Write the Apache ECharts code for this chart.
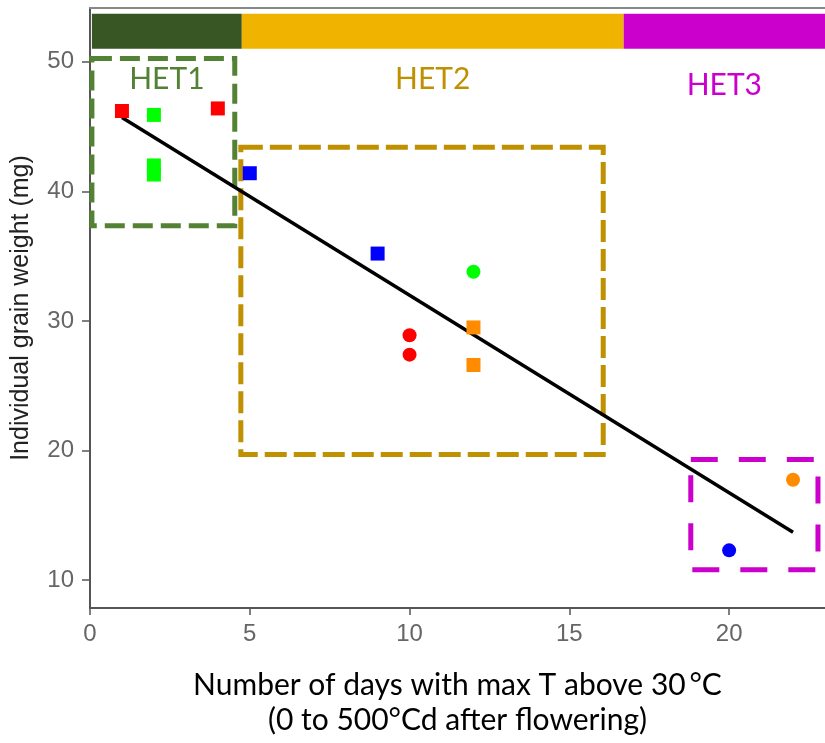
<!DOCTYPE html>
<html>
<head>
<meta charset="utf-8">
<script src="https://cdn.jsdelivr.net/npm/echarts@6/dist/echarts.min.js"></script>
<style>
html,body{margin:0;padding:0;background:#fff;}
#box{width:825px;height:743px;}
</style>
</head>
<body>
<div id="box"></div>
<script>
// 数据
var redSquares = [[1, 46.2], [4, 46.4]];
var greenSquares = [[2, 45.9], [2, 42.0], [2, 41.3]];
var blueSquares = [[5, 41.4], [9, 35.2]];
var orangeSquares = [[12, 29.5], [12, 26.6]];
var redCircles = [[10, 28.9], [10, 27.4]];
var greenCircles = [[12, 33.8]];
var blueCircles = [[20, 12.3]];
var orangeCircles = [[22, 17.75]];
var fitLine = [[1, 45.7], [22, 13.7]];

var yTicks = [10, 20, 30, 40, 50];
var xTicks = [0, 5, 10, 15, 20];

// 分组 [xmin, ymin, xmax, ymax]
var hetNames = ['HET1', 'HET2', 'HET3'];
var hetColors = ['#548235', '#BF9000', '#CC00CC'];
var barColors = ['#375623', '#F0B400', '#CC00CC'];
var hetBars = [[0.06, 51.0, 4.75, 53.7], [4.75, 51.0, 16.7, 53.7], [16.7, 51.0, 23, 53.7]];
var hetBoxes = [[0.06, 37.35, 4.53, 50.25], [4.72, 19.7, 16.06, 43.4], [18.8, 10.8, 22.78, 19.3]];
var hetDash = [[20, 8], [22, 7], [27, 21]];

function scatter(data, color, symbol) {
    return {
        type: 'scatter',
        data: data,
        symbol: symbol,
        symbolSize: 14,
        itemStyle: {color: color, opacity: 1},
        z: 5
    };
}

var barAreas = hetBars.map(function (b, i) {
    return [{
        coord: [b[0], b[3]],
        itemStyle: {color: barColors[i], opacity: 1},
        label: {
            show: true,
            position: 'bottom',
            distance: i === 2 ? 22 : 16,
            formatter: hetNames[i],
            color: hetColors[i],
            fontSize: 30,
            fontFamily: 'Lato'
        }
    }, {coord: [b[2], b[1]]}];
});
var boxAreas = hetBoxes.map(function (b, i) {
    return [{
        coord: [b[0], b[3]],
        itemStyle: {
            color: 'rgba(0,0,0,0)',
            borderColor: hetColors[i],
            borderWidth: 5,
            borderType: hetDash[i]
        },
        label: {show: false}
    }, {coord: [b[2], b[1]]}];
});

var option = {
    animation: false,
    grid: {left: 90, right: 0, top: 8, bottom: 132},
    xAxis: [{
        type: 'value',
        min: 0,
        max: 23,
        splitLine: {show: false},
        axisLine: {lineStyle: {color: '#555', width: 2}},
        axisTick: {length: 7, lineStyle: {color: '#555', width: 1.5}, customValues: xTicks},
        axisLabel: {customValues: xTicks, color: '#666', fontSize: 24, fontFamily: 'Liberation Sans', margin: 14},
        name: 'Number of days with max T above 30\u2009°C\n(0 to 500°Cd after flowering)',
        nameLocation: 'middle',
        nameGap: 60,
        nameTextStyle: {color: '#000', fontSize: 30, fontFamily: 'Lato', lineHeight: 35}
    }, {
        type: 'value',
        position: 'top',
        min: 0,
        max: 23,
        splitLine: {show: false},
        axisLine: {show: true, lineStyle: {color: '#888', width: 2}},
        axisTick: {show: false},
        axisLabel: {show: false}
    }],
    yAxis: {
        type: 'value',
        min: 7.85,
        max: 54.15,
        splitLine: {show: false},
        axisLine: {show: true, lineStyle: {color: '#555', width: 2}},
        axisTick: {show: true, length: 8, lineStyle: {color: '#555', width: 1.5}, customValues: yTicks},
        axisLabel: {customValues: yTicks, color: '#666', fontSize: 24, fontFamily: 'Liberation Sans', margin: 16},
        name: 'Individual grain weight (mg)',
        nameLocation: 'middle',
        nameGap: 56,
        nameTextStyle: {color: '#222', fontSize: 25, fontFamily: 'Liberation Sans'}
    },
    series: [
        {
            type: 'line',
            data: fitLine,
            symbol: 'none',
            lineStyle: {color: '#000', width: 3.5},
            z: 4,
            markArea: {silent: true, data: barAreas.concat(boxAreas)}
        },
        scatter(redSquares, '#FF0000', 'rect'),
        scatter(greenSquares, '#00FF00', 'rect'),
        scatter(blueSquares, '#0000FF', 'rect'),
        scatter(orangeSquares, '#FF8C00', 'rect'),
        scatter(redCircles, '#FF0000', 'circle'),
        scatter(greenCircles, '#00FF00', 'circle'),
        scatter(blueCircles, '#0000FF', 'circle'),
        scatter(orangeCircles, '#FF8C00', 'circle')
    ]
};
var chart = echarts.init(document.getElementById('box'));
chart.setOption(option);
</script>
</body>
</html>
